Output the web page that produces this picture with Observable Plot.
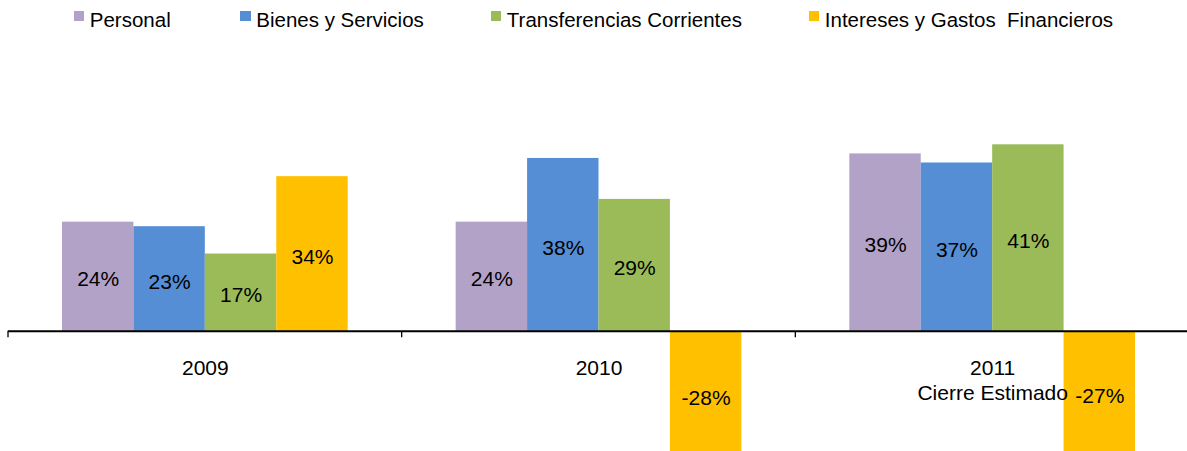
<!DOCTYPE html>
<html><head><meta charset="utf-8">
<script src="https://cdn.jsdelivr.net/npm/d3@7"></script>
<script src="https://cdn.jsdelivr.net/npm/@observablehq/plot@0.6"></script>
<style>
html,body{margin:0;padding:0;background:#fff;overflow:hidden;}
body{width:1187px;height:451px;font-family:"Liberation Sans",Arial,sans-serif;}
#legend{position:relative;height:36px;width:1187px;}
.sw{position:absolute;top:10.5px;width:10.5px;height:10.5px;}
.lt{position:absolute;top:7.5px;font-size:20.5px;line-height:normal;color:#000;white-space:pre;}
#chart svg{display:block;}
</style></head><body>
<div id="legend"></div><div id="chart"></div>
<script>
const years = ["2009", "2010", "2011"];
const yearLabels = ["2009", "2010", "2011\nCierre Estimado"];
const series = ["Personal", "Bienes y Servicios", "Transferencias Corrientes", "Intereses y Gastos  Financieros"];
const colors = ["#B3A2C7", "#558ED5", "#9BBB59", "#FFC000"];
const personal = [24, 24, 39];
const bienes = [23, 38, 37];
const transferencias = [17, 29, 41];
const intereses = [34, -28, -27];

const seriesValues = [personal, bienes, transferencias, intereses];
const data = [];
years.forEach((yr, i) => seriesValues.forEach((arr, j) => data.push({year: yr, series: series[j], value: arr[i]})));

// Legend (HTML, above the SVG)
const legendX = [73.5, 240, 490.5, 808.5];
const legend = document.getElementById("legend");
series.forEach((s, j) => {
  const sw = document.createElement("div");
  sw.className = "sw"; sw.style.left = legendX[j] + "px"; sw.style.background = colors[j];
  const t = document.createElement("div");
  t.className = "lt"; t.style.left = (legendX[j] + 16.3) + "px"; t.textContent = s;
  legend.appendChild(sw); legend.appendChild(t);
});

const plot = Plot.plot({
  width: 1187, height: 415,
  marginTop: 0, marginBottom: 0, marginLeft: 8, marginRight: -2,
  fx: {domain: years, padding: 0, round: false, axis: null, label: null},
  x: {domain: series, paddingInner: 0, paddingOuter: 0.756, round: false, axis: null, label: null},
  y: {domain: [-26.4, 64.8], axis: null, label: null},
  color: {domain: series, range: colors},
  style: {fontFamily: "'Liberation Sans', Arial, sans-serif", background: "transparent", overflow: "hidden"},
  marks: [
    Plot.barY(data, {fx: "year", x: "series", y: "value", fill: "series", clip: true}),
    Plot.ruleY([0], {stroke: "#000", strokeWidth: 2}),
    Plot.text(data, {fx: "year", x: "series", y: d => d.value / 2, text: d => `${d.value}%`, fontSize: 21, fill: "#000", dy: 3}),
    Plot.text(years, {fx: d => d, y: () => 0, text: (d, i) => yearLabels[i], fontSize: 21, fill: "#000", lineAnchor: "top", lineHeight: 1.19, dy: 26})
  ]
});

// category separator ticks at the band boundaries, from the library's scales
const fxs = plot.scale("fx");
const ys = plot.scale("y");
const y0 = ys.apply(0);
const g = d3.select(plot).append("g").attr("stroke", "#000").attr("stroke-width", 1.3);
years.forEach(yr => {
  const xv = fxs.apply(yr);
  g.append("line").attr("x1", xv).attr("x2", xv).attr("y1", y0).attr("y2", y0 + 6.5);
});

document.getElementById("chart").appendChild(plot);
</script>
</body></html>
